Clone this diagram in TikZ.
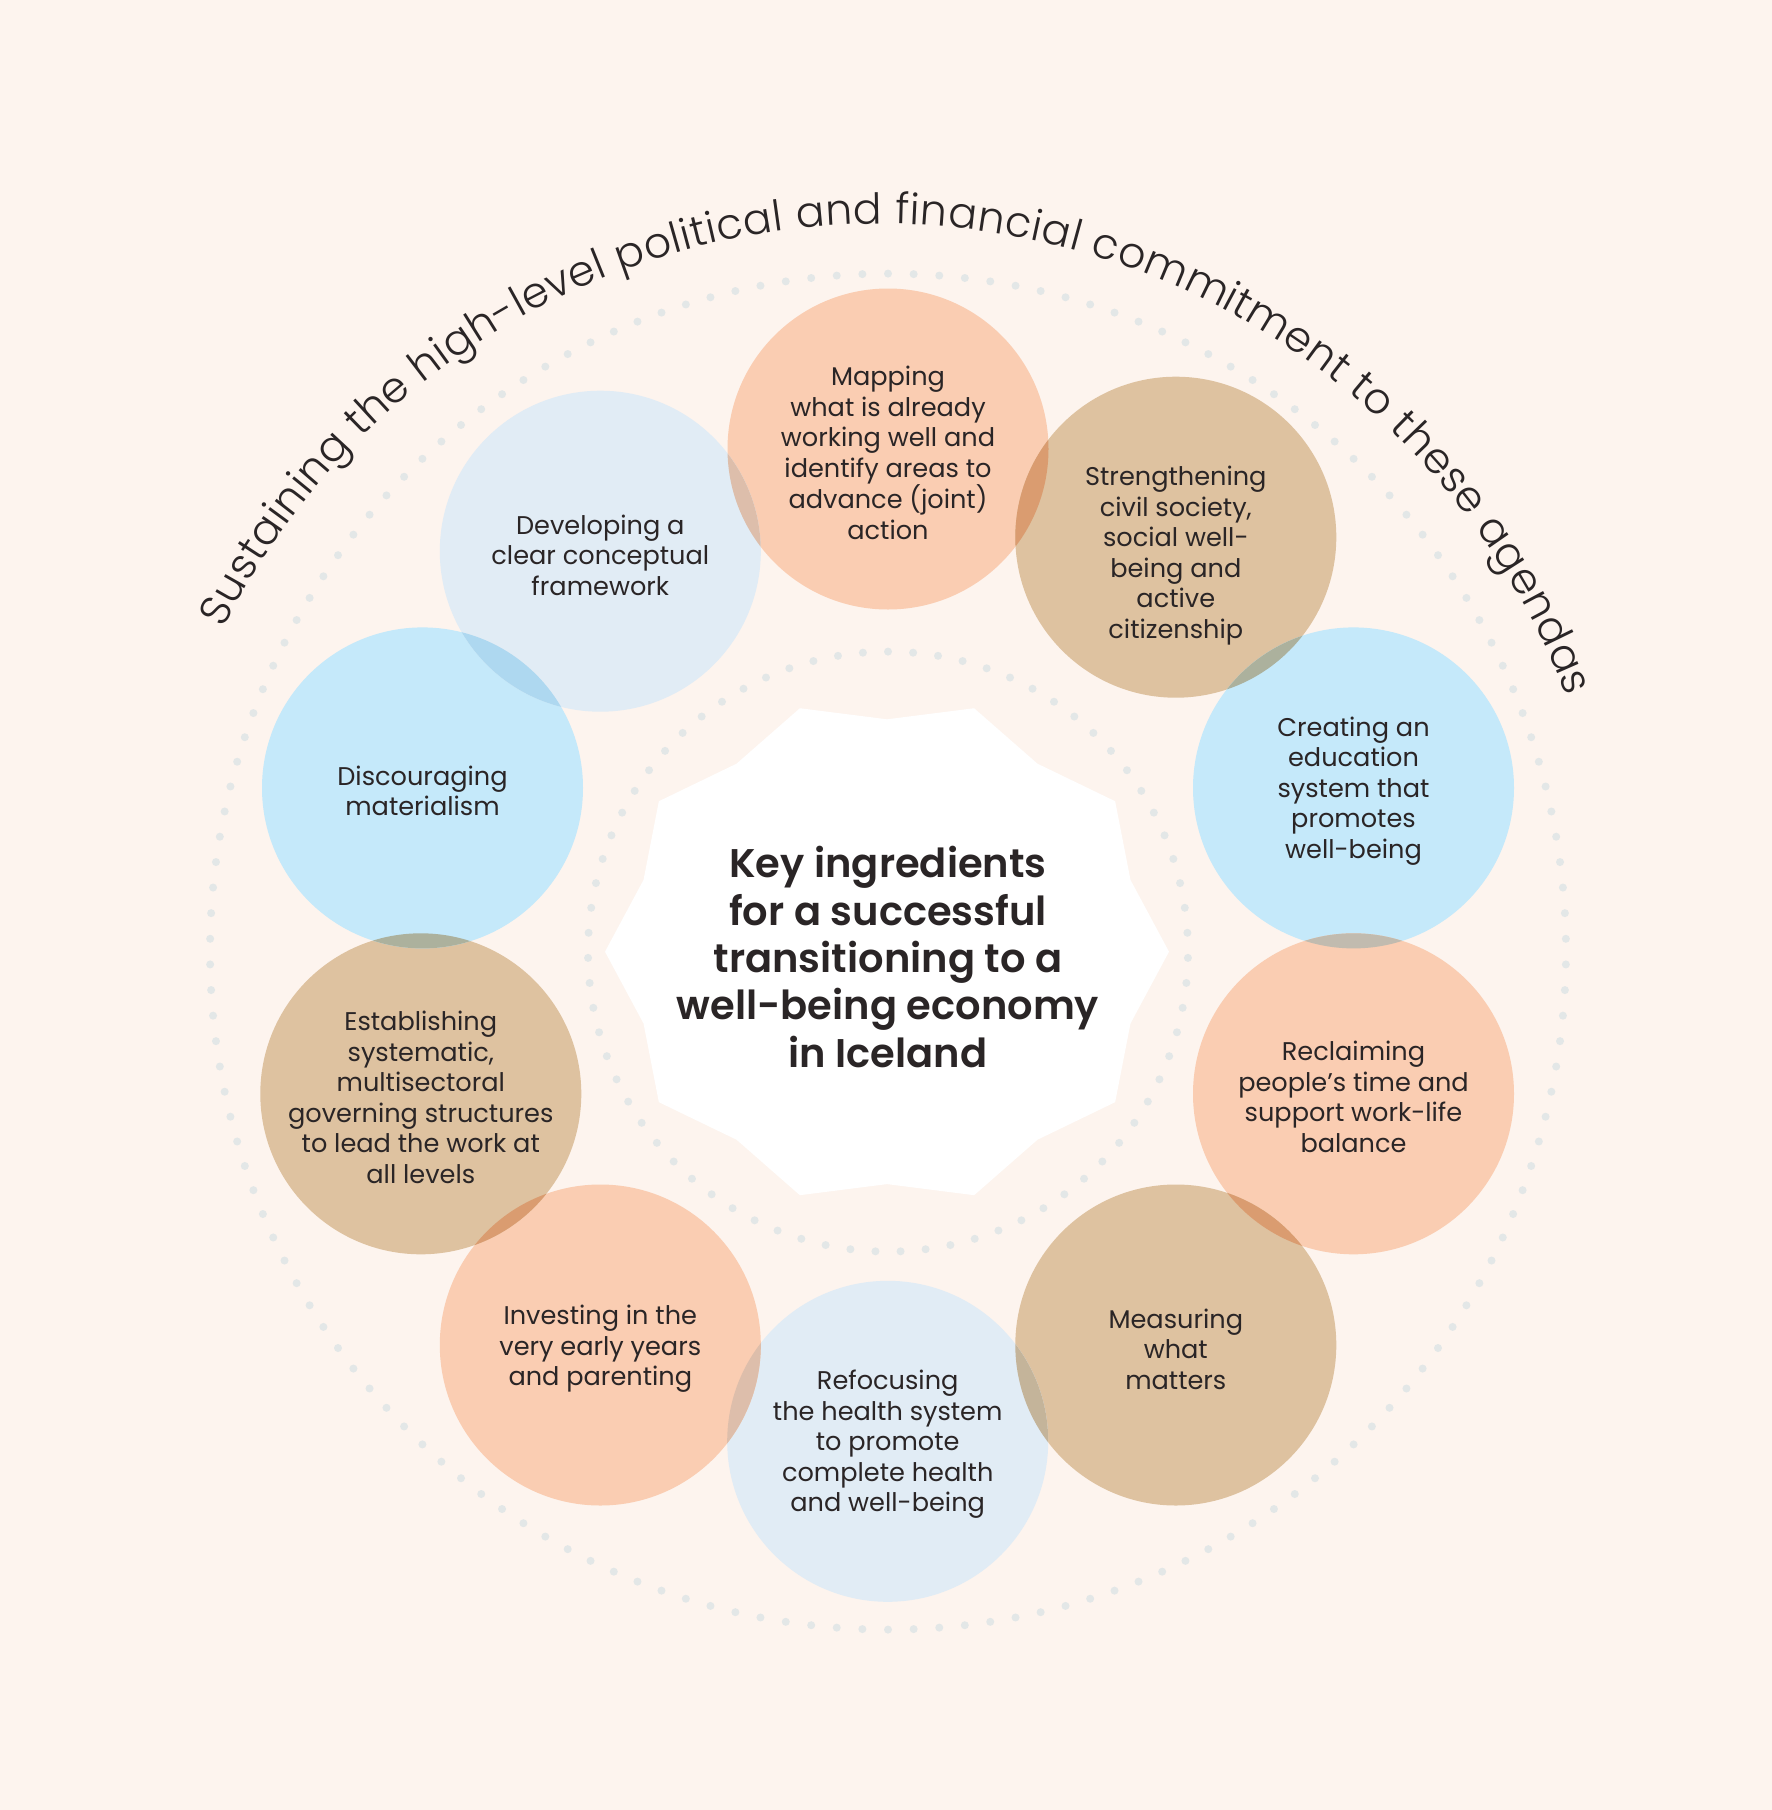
\documentclass[tikz,border=0pt]{standalone}
\usepackage{fontspec}
\setmainfont{Poppins}
\newfontfamily\lightfont{Poppins Light}
\newfontfamily\semifont{Poppins SemiBold}
\usetikzlibrary{calc,decorations.text}
\definecolor{bg}{HTML}{FDF4EE}
\definecolor{peach}{HTML}{FACDB2}
\definecolor{tanc}{HTML}{DEC2A0}
\definecolor{lblue}{HTML}{C5E9FA}
\definecolor{pblue}{HTML}{E1ECF5}
\definecolor{dotc}{HTML}{E3E7E7}
\definecolor{ink}{HTML}{2A2526}
\definecolor{ovPT}{HTML}{DA9C70}
\definecolor{ovTL}{HTML}{ACB19D}
\definecolor{ovLP}{HTML}{C1BBAF}
\definecolor{ovTB}{HTML}{C4B49A}
\definecolor{ovBP}{HTML}{DDBEAB}
\definecolor{ovLB}{HTML}{AED8F0}
\tikzset{
  bubbletext/.style={align=center, text=ink, inner sep=0pt,
    font=\fontsize{25.6}{30.5}\selectfont},
  titletext/.style={align=center, text=ink, inner sep=0pt,
    font=\semifont\fontsize{40}{47.3}\selectfont},
  dotstyle/.style={fill=dotc}
}
\newcommand{\bubR}{160.5}
\begin{document}
\begin{tikzpicture}[x=1pt,y=1pt]
\fill[bg] (0,0) rectangle (1772,-1810);
\useasboundingbox (0,0) rectangle (1772,-1810);
\coordinate (D) at (888,-951.6);
\coordinate (S) at (887,-951.7);
\coordinate (A) at (880,-959);
% dotted rings
\foreach \i in {0,...,165} \fill[dotstyle] ($(D)+({90+\i*2.168675}:678)$) circle (4);
\foreach \i in {0,...,74} \fill[dotstyle] ($(D)+({90+\i*4.8}:300)$) circle (4);
% star
\fill[white] ($(S)+(282,0)$)
  \foreach \k in {0,...,9}{
    -- ($(S)+({256*cos(36*\k+18)},{232.4*sin(36*\k+18)})$)
    -- ($(S)+({282*cos(36*\k+36)},{256*sin(36*\k+36)})$)
  } -- cycle;
% bubble centres
\coordinate (c1) at (888,-449);
\coordinate (c2) at (1175.8,-537.2);
\coordinate (c3) at (1353.5,-787.9);
\coordinate (c4) at (1353.5,-1093.8);
\coordinate (c5) at (1175.8,-1345);
\coordinate (c6) at (887.7,-1441.3);
\coordinate (c7) at (600.3,-1345);
\coordinate (c8) at (420.8,-1093.8);
\coordinate (c9) at (422.5,-787.9);
\coordinate (c10) at (600.3,-551.2);
% bubbles
\fill[peach] (c1) circle (\bubR);
\fill[tanc]  (c2) circle (\bubR);
\fill[lblue] (c3) circle (\bubR);
\fill[peach] (c4) circle (\bubR);
\fill[tanc]  (c5) circle (\bubR);
\fill[pblue] (c6) circle (\bubR);
\fill[peach] (c7) circle (\bubR);
\fill[tanc]  (c8) circle (\bubR);
\fill[lblue] (c9) circle (\bubR);
\fill[pblue] (c10) circle (\bubR);
% overlaps
\foreach \a/\b/\col in {1/2/ovPT,2/3/ovTL,3/4/ovLP,4/5/ovPT,5/6/ovTB,6/7/ovBP,7/8/ovPT,8/9/ovTL,9/10/ovLB,10/1/ovBP}{
  \begin{scope}
    \clip (c\a) circle (\bubR);
    \fill[\col] (c\b) circle (\bubR);
  \end{scope}
}
% texts
\node[bubbletext] (t1) at (888,-453) {Mapping\\what is already\\working well and\\identify areas to\\advance (joint)\\action};
\node[bubbletext] (t2) at (1175.8,-555.5) {Strengthening\\civil society,\\social well-\\being and\\active\\citizenship};
\node[bubbletext] (t3) at (1353.5,-791) {Creating an\\education\\system that\\promotes\\well-being};
\node[bubbletext] (t4) at (1353.5,-1097) {Reclaiming\\people’s time and\\support work-life\\balance};
\node[bubbletext] (t5) at (1175.8,-1349) {Measuring\\what\\matters};
\node[bubbletext] (t6) at (887.7,-1444.5) {Refocusing\\the health system\\to promote\\complete health\\and well-being};
\node[bubbletext] (t7) at (600.3,-1349) {Investing in the\\very early years\\and parenting};
\node[bubbletext] (t8) at (420.8,-1097.5) {Establishing\\systematic,\\multisectoral\\governing structures\\to lead the work at\\all levels};
\node[bubbletext] (t9) at (422.5,-791) {Discouraging\\materialism};
\node[bubbletext] (t10) at (600.3,-555) {Developing a\\clear conceptual\\framework};
\node[titletext] (title) at (888,-957) {Key ingredients\\for a successful\\transitioning to a\\well-being economy\\in Iceland};
% arc text
\path[decorate, decoration={text along path, text align=fit to path,
  text={|\lightfont\fontsize{42.5}{42.5}\selectfont\color{ink}|Sustaining the high-level political and financial commitment to these agendas}}]
  ($(A)+(153.3:735)$) arc[start angle=153.3, end angle=20.9, radius=735];
\end{tikzpicture}
\end{document}
